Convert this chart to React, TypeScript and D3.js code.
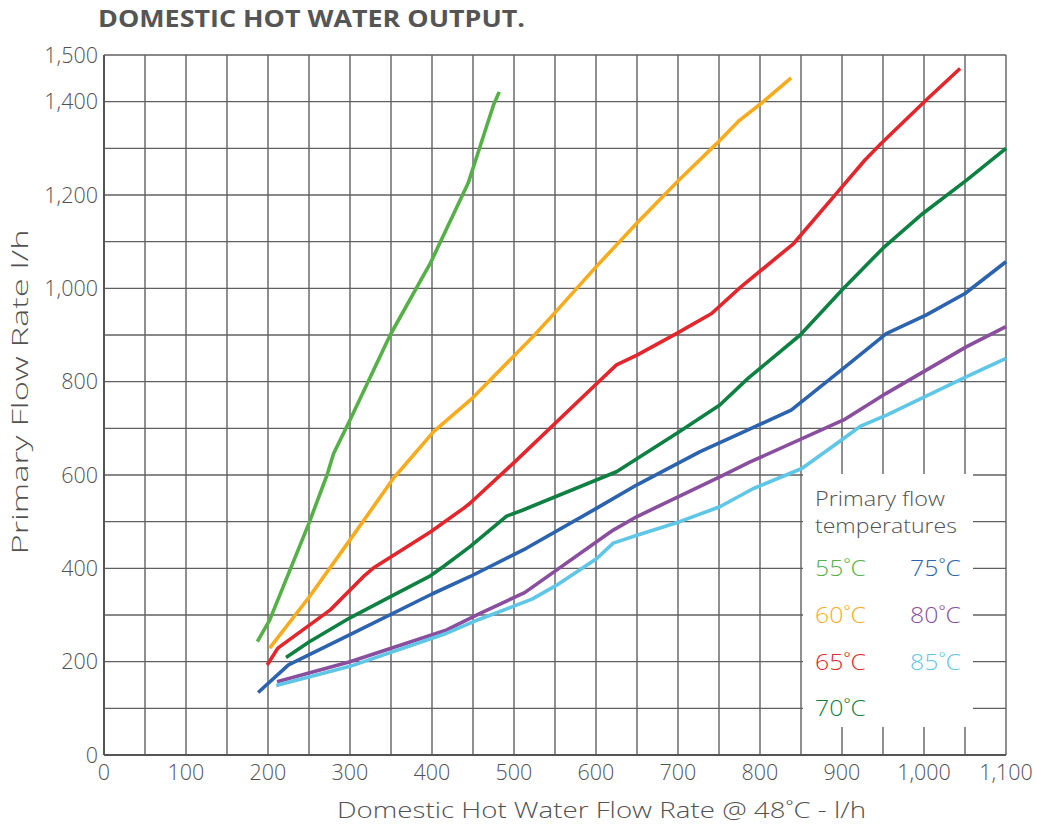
import React from "react";
import * as d3 from "d3";

const xTicks = [0, 100, 200, 300, 400, 500, 600, 700, 800, 900, 1000, 1100];
const yTicks = [0, 200, 400, 600, 800, 1000, 1200, 1400, 1500];
const xGrid = d3.range(0, 1101, 50);
const yGrid = d3.range(0, 1501, 100);

const t55: [number, number][] = [[187,243],[202,289],[250,497],[272,600],[280,646],[300,718],[349,900],[398,1054],[444,1225],[452,1268],[475,1393],[482,1421]];
const t60: [number, number][] = [[202,229],[250,338],[300,461],[353,593],[402,693],[450,766],[525,900],[550,948],[600,1046],[650,1140],[700,1230],[747,1310],[775,1360],[804,1400],[838,1451]];
const t65: [number, number][] = [[199,193],[212,229],[276,311],[318,385],[328,400],[398,478],[438,528],[446,539],[499,625],[601,796],[625,836],[650,857],[698,903],[741,946],[776,1002],[841,1096],[893,1203],[928,1275],[948,1311],[1003,1404],[1044,1471]];
const t70: [number, number][] = [[222,209],[250,242],[300,294],[350,340],[398,384],[414,404],[446,446],[491,512],[511,525],[625,607],[702,693],[751,750],[786,808],[849,900],[902,1000],[950,1086],[999,1161],[1052,1232],[1100,1300]];
const t75: [number, number][] = [[188,134],[225,193],[300,258],[400,345],[446,382],[515,443],[601,529],[650,579],[727,650],[776,689],[838,739],[902,829],[954,903],[1003,943],[1050,989],[1100,1057]];
const t80: [number, number][] = [[211,157],[300,200],[418,268],[458,303],[513,348],[621,482],[650,511],[751,596],[788,628],[902,718],[954,775],[1052,875],[1100,918]];
const t85: [number, number][] = [[210,149],[300,190],[418,261],[458,291],[522,334],[552,364],[601,421],[621,454],[650,471],[702,500],[751,532],[792,571],[851,614],[894,668],[922,704],[955,729],[1052,811],[1100,850]];

const seriesNames = ["55˚C", "60˚C", "65˚C", "70˚C", "75˚C", "80˚C", "85˚C"];
const seriesData = [t55, t60, t65, t70, t75, t80, t85];
const seriesColors = ["#55b047", "#f8ac1d", "#e3262b", "#0e8142", "#2b63ae", "#8a4e9f", "#5fc6e8"];

const W = 1037, H = 830;
const X0 = 104, X1 = 1006, Y0 = 755, Y1 = 55;
const FONT = "'Open Sans', 'Noto Sans', sans-serif";
const TEXT = "#525252";

export default function App() {
  const x = d3.scaleLinear().domain([0, 1100]).range([X0, X1]);
  const y = d3.scaleLinear().domain([0, 1500]).range([Y0, Y1]);
  const line = d3.line<[number, number]>().x(d => x(d[0])).y(d => y(d[1])).curve(d3.curveLinear);
  const fmt = d3.format(",");

  const lx0 = 803, lx1 = 973, ly0 = 474, ly1 = 727;
  const legendRows = [0, 1, 2, 3];

  return (
    <div style={{ position: "absolute", left: 0, top: 0 }}>
      <svg width={W} height={H} style={{ display: "block", background: "#fff" }}>
        <text x={98} y={27} fontFamily={FONT} fontWeight={700} fontSize={23.5} fill="#555" textLength={427} lengthAdjust="spacingAndGlyphs">DOMESTIC HOT WATER OUTPUT.</text>
        {xGrid.map(v => (
          <line key={"gx" + v} x1={x(v)} x2={x(v)} y1={Y1} y2={Y0} stroke="#606060" strokeWidth={1.4} />
        ))}
        {yGrid.map(v => (
          <line key={"gy" + v} x1={X0} x2={X1} y1={y(v)} y2={y(v)} stroke="#606060" strokeWidth={1.4} />
        ))}
        <line x1={X0} x2={X0} y1={Y1} y2={Y0} stroke="#555" strokeWidth={2} />
        <line x1={X0} x2={X1} y1={Y0} y2={Y0} stroke="#555" strokeWidth={2} />
        <rect x={lx0} y={ly0} width={lx1 - lx0} height={ly1 - ly0} fill="#fff" />
        {seriesData.map((d, i) => (
          <path key={"s" + i} d={line(d) || ""} fill="none" stroke={seriesColors[i]} strokeWidth={3.6} strokeLinejoin="round" strokeLinecap="butt" />
        ))}
        {yTicks.map(v => (
          <text key={"yt" + v} x={98} y={y(v)} dy="0.36em" textAnchor="end" fontFamily={FONT} fontWeight={300} fontSize={21.5} fill={TEXT}>{fmt(v)}</text>
        ))}
        {xTicks.map(v => (
          <text key={"xt" + v} x={x(v)} y={780} textAnchor="middle" fontFamily={FONT} fontWeight={300} fontSize={21.5} fill={TEXT}>{fmt(v)}</text>
        ))}
        <text x={337} y={818} fontFamily={FONT} fontWeight={300} fontSize={21.5} fill={TEXT} textLength={529} lengthAdjust="spacingAndGlyphs">Domestic Hot Water Flow Rate @ 48˚C - l/h</text>
        <text transform="translate(28,392) rotate(-90)" textAnchor="middle" fontFamily={FONT} fontWeight={300} fontSize={21.5} fill={TEXT} textLength={325} lengthAdjust="spacingAndGlyphs">Primary Flow Rate l/h</text>
        <text x={815} y={506} fontFamily={FONT} fontWeight={300} fontSize={20} fill={TEXT} textLength={130} lengthAdjust="spacingAndGlyphs">Primary flow</text>
        <text x={815} y={533} fontFamily={FONT} fontWeight={300} fontSize={20} fill={TEXT} textLength={142} lengthAdjust="spacingAndGlyphs">temperatures</text>
        {legendRows.map(r => (
          <text key={"l1" + r} x={815} y={y(400 - r * 100) + 8} fontFamily={FONT} fontWeight={300} fontSize={21.5} fill={seriesColors[r]} textLength={51} lengthAdjust="spacingAndGlyphs">{seriesNames[r]}</text>
        ))}
        {legendRows.slice(0, 3).map(r => (
          <text key={"l2" + r} x={910} y={y(400 - r * 100) + 8} fontFamily={FONT} fontWeight={300} fontSize={21.5} fill={seriesColors[r + 4]} textLength={51} lengthAdjust="spacingAndGlyphs">{seriesNames[r + 4]}</text>
        ))}
      </svg>
    </div>
  );
}
